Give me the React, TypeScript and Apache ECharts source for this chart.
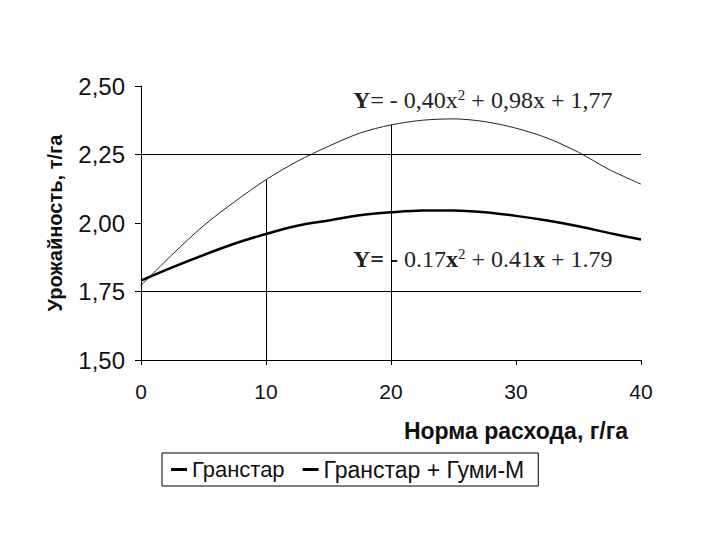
import React, { useEffect, useRef } from "react";
import * as echarts from "echarts";

const doses = [0, 2.5, 5, 7.5, 10, 12.5, 15, 17.5, 20, 22.5, 25, 27.5, 30, 32.5, 35, 37.5, 40];
const granstar = [1.79, 1.838, 1.883, 1.925, 1.96, 1.99, 2.009, 2.028, 2.039, 2.046, 2.046, 2.039, 2.026, 2.009, 1.988, 1.963, 1.94];
const granstarGumi = [1.772, 1.885, 1.99, 2.078, 2.158, 2.225, 2.28, 2.328, 2.358, 2.375, 2.38, 2.37, 2.346, 2.31, 2.258, 2.194, 2.142];
const seriesNames = ["Гранстар", "Гранстар + Гуми-М"];
const gridLevels = [2.25, 1.75];
const dropDoses = [10, 20];

export default function App() {
  const ref = useRef<HTMLDivElement>(null);
  useEffect(() => {
    if (!ref.current) return;
    const chart = echarts.init(ref.current, null, { renderer: "svg" });
    const sans = "'Liberation Sans', Arial, sans-serif";
    const serif = "'Liberation Serif', 'Times New Roman', serif";
    const dropLines = dropDoses.map((d) => [
      { coord: [d, 1.5] },
      { coord: [d, granstarGumi[doses.indexOf(d)]] },
    ]);
    const eqRich = {
      b: { fontFamily: serif, fontSize: 24, fontWeight: "bold", fill: "#222" },
      n: { fontFamily: serif, fontSize: 24, fill: "#222" },
      s: { fontFamily: serif, fontSize: 15, fill: "#222", padding: [0, 0, 10, 0] },
    };
    chart.setOption({
      animation: false,
      backgroundColor: "#fff",
      grid: { left: 133, right: 79, top: 78, bottom: 180, containLabel: false },
      xAxis: {
        type: "value",
        min: 0,
        max: 40,
        interval: 10,
        axisLine: { show: true, lineStyle: { color: "#000", width: 1 } },
        axisTick: { show: true, inside: false, length: 5, lineStyle: { color: "#000" } },
        splitLine: { show: false },
        axisLabel: { fontFamily: sans, fontSize: 21, color: "#111", margin: 21 },
      },
      yAxis: {
        type: "value",
        min: 1.5,
        max: 2.5,
        interval: 0.25,
        name: "Урожайность, т/га",
        nameLocation: "middle",
        nameGap: 76,
        nameTextStyle: { fontFamily: sans, fontSize: 20, fontWeight: "bold", color: "#111" },
        axisLine: { show: true, lineStyle: { color: "#000", width: 1 } },
        axisTick: { show: true, inside: false, length: 6, lineStyle: { color: "#000" } },
        splitLine: { show: false },
        axisLabel: {
          fontFamily: sans,
          fontSize: 24,
          color: "#111",
          margin: 16,
          formatter: (v: number) => v.toFixed(2).replace(".", ","),
        },
      },
      legend: {
        left: 154,
        top: 445,
        orient: "horizontal",
        borderColor: "#000",
        borderWidth: 1,
        padding: [5, 14, 5, 9],
        itemGap: 18,
        itemWidth: 16,
        itemHeight: 3,
        icon: "rect",
        textStyle: { fontFamily: sans, fontSize: 22, color: "#111" },
        data: [
          { name: seriesNames[0] },
          { name: seriesNames[1], textStyle: { fontFamily: sans, fontSize: 23, color: "#111" } },
        ],
      },
      series: [
        {
          name: seriesNames[0],
          type: "line",
          smooth: 0.3,
          symbol: "none",
          data: doses.map((d, i) => [d, granstar[i]]),
          lineStyle: { color: "#000", width: 2.5 },
          itemStyle: { color: "#000" },
          z: 3,
        },
        {
          name: seriesNames[1],
          type: "line",
          smooth: 0.3,
          symbol: "none",
          data: doses.map((d, i) => [d, granstarGumi[i]]),
          lineStyle: { color: "#222", width: 1 },
          itemStyle: { color: "#000" },
          z: 3,
          markLine: {
            silent: true,
            symbol: "none",
            label: { show: false },
            lineStyle: { color: "#000", width: 1, type: "solid" },
            data: [...gridLevels.map((v) => ({ yAxis: v })), ...dropLines],
          },
        },
      ],
      graphic: [
        {
          type: "text",
          left: 345,
          top: 79,
          style: {
            text: "{b|Y}{n|= - 0,40x}{s|2}{n| + 0,98x + 1,77}",
            rich: eqRich,
          },
        },
        {
          type: "text",
          left: 345,
          top: 238,
          style: {
            text: "{b|Y= -}{n| 0.17}{b|x}{s|2}{n| + 0.41}{b|x}{n| + 1.79}",
            rich: eqRich,
          },
        },
        {
          type: "text",
          right: 92,
          top: 411,
          style: {
            text: "Норма расхода, г/га",
            fontFamily: sans,
            fontSize: 23,
            fontWeight: "bold",
            fill: "#111",
          },
        },
      ],
    });
    return () => chart.dispose();
  }, []);
  return <div ref={ref} style={{ width: 712, height: 532 }} />;
}
